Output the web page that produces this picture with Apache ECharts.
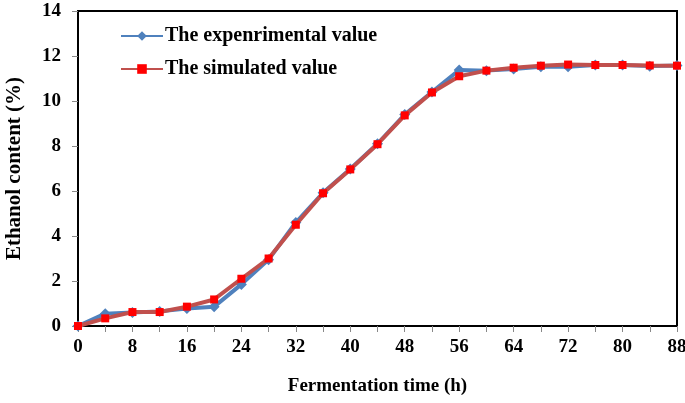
<!DOCTYPE html>
<html>
<head>
<meta charset="utf-8">
<script src="https://cdn.jsdelivr.net/npm/echarts@6/dist/echarts.min.js"></script>
<style>html,body{margin:0;padding:0;background:#fff}#c{width:685px;height:403px}</style>
</head>
<body>
<div id="c"></div>
<script>
const hours = [0,4,8,12,16,20,24,28,32,36,40,44,48,52,56,60,64,68,72,76,80,84,88];
const experimental = [0,0.55,0.6,0.65,0.78,0.86,1.85,2.95,4.6,5.92,6.98,8.1,9.4,10.4,11.38,11.35,11.42,11.52,11.52,11.6,11.6,11.55,11.58];
const simulated = [0,0.34,0.62,0.62,0.86,1.18,2.1,3.0,4.5,5.9,6.96,8.08,9.36,10.38,11.1,11.35,11.48,11.57,11.62,11.6,11.6,11.58,11.57];
const xTicks = [0,8,16,24,32,40,48,56,64,72,80,88];
const seriesNames = ['The expenrimental value','The simulated value'];

const font = 'Liberation Serif';
const pair = (arr) => hours.map((h,i) => [h, arr[i]]);
const chart = echarts.init(document.getElementById('c'));
chart.setOption({
  animation: false,
  backgroundColor: '#fff',
  grid: { left: 78, right: 8, top: 11, bottom: 77, show: true, borderColor: '#000', borderWidth: 2,
    containLabel: false, outerBoundsMode: 'none' },
  legend: {
    orient: 'vertical', left: 120, top: 26, padding: 0, itemGap: 13, itemWidth: 42, itemHeight: 12,
    textStyle: { fontFamily: font, fontWeight: 'bold', fontSize: 20, color: '#000', padding: [0,0,0,-3] },
    data: seriesNames
  },
  xAxis: {
    type: 'value', min: 0, max: 88, interval: 4,
    name: 'Fermentation time (h)', nameLocation: 'middle', nameGap: 51,
    nameTextStyle: { fontFamily: font, fontWeight: 'bold', fontSize: 19, color: '#000' },
    axisLine: { show: true, lineStyle: { color: '#000', width: 2 } },
    axisTick: { show: true, length: 6, lineStyle: { color: '#888', width: 1 } },
    splitLine: { show: false },
    axisLabel: { margin: 12, fontFamily: font, fontWeight: 'bold', fontSize: 19, color: '#000',
      formatter: v => xTicks.indexOf(v) >= 0 ? String(v) : '' }
  },
  yAxis: {
    type: 'value', min: 0, max: 14, interval: 2,
    name: 'Ethanol content (%)', nameLocation: 'middle', nameGap: 53,
    nameTextStyle: { fontFamily: font, fontWeight: 'bold', fontSize: 21, color: '#000' },
    axisLine: { show: true, lineStyle: { color: '#000', width: 2 } },
    axisTick: { show: true, length: 6, lineStyle: { color: '#888', width: 1 } },
    splitLine: { show: false },
    axisLabel: { margin: 17, fontFamily: font, fontWeight: 'bold', fontSize: 19, color: '#000' }
  },
  series: [
    { name: seriesNames[0], type: 'line', data: pair(experimental), symbol: 'diamond', symbolSize: 11,
      lineStyle: { color: '#4F81BD', width: 4 }, itemStyle: { color: '#4F81BD' }, z: 2 },
    { name: seriesNames[1], type: 'line', data: pair(simulated), symbol: 'rect', symbolSize: 8,
      lineStyle: { color: '#C0504D', width: 4 }, itemStyle: { color: '#FF0000' }, z: 3 }
  ]
});
</script>
</body>
</html>
